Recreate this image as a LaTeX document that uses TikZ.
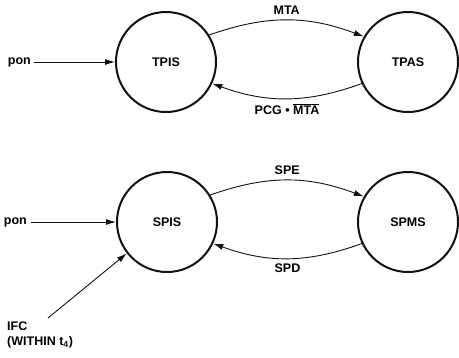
\documentclass[tikz,border=0pt]{standalone}
\usepackage{fontspec}
\setmainfont{Liberation Sans}
\usepackage{tikz}
\usetikzlibrary{arrows.meta,positioning}
\definecolor{inkblack}{HTML}{111111}
\tikzset{
  statenode/.style={
    circle,
    draw=inkblack,
    line width=2pt,
    minimum size=100pt,
    inner sep=0pt,
    font=\fontsize{12.5}{15}\selectfont\bfseries
  },
  signal/.style={
    inner sep=1pt,
    font=\fontsize{12.5}{15}\selectfont\bfseries
  },
  transarrow/.style={
    -{Latex[length=10pt,width=6pt]},
    line width=0.9pt,
    draw=inkblack
  }
}
\begin{document}
\begin{tikzpicture}[x=1pt,y=-1pt]
  \useasboundingbox (0,0) rectangle (459,357);

  % timer states
  \node[statenode] (tpis) at (166,62) {TPIS};
  \node[statenode] (tpas) at (408,62) {TPAS};
  \node[signal, anchor=east, inner xsep=3pt] (pon1) at (34,62) {pon};

  \draw[transarrow] (pon1) -- (tpis);
  \draw[transarrow] (tpis.32) to[bend left=20]
    node[signal, above=4pt] (mta) {MTA} (tpas.150);
  \draw[transarrow] (tpas.205) to[bend left=20]
    node[signal, below=4pt] (pcg) {PCG \textbullet\ $\overline{\hbox{MTA}}$} (tpis.335);

  % spare states
  \node[statenode] (spis) at (167,222) {SPIS};
  \node[statenode] (spms) at (408,222) {SPMS};
  \node[signal, anchor=east, inner xsep=4pt] (pon2) at (31,222) {pon};
  \coordinate (ifctail) at (48,318);
  \node[signal, align=left, anchor=north west] (ifc) at (6,321) {IFC\\(WITHIN t\textsubscript{4})};

  \draw[transarrow] (pon2) -- (spis);
  \draw[transarrow] (ifctail) -- (spis.218);
  \draw[transarrow] (spis.32) to[bend left=20]
    node[signal, above=4pt] (spe) {SPE} (spms.150);
  \draw[transarrow] (spms.205) to[bend left=20]
    node[signal, below=4pt] (spd) {SPD} (spis.335);
\end{tikzpicture}
\end{document}
